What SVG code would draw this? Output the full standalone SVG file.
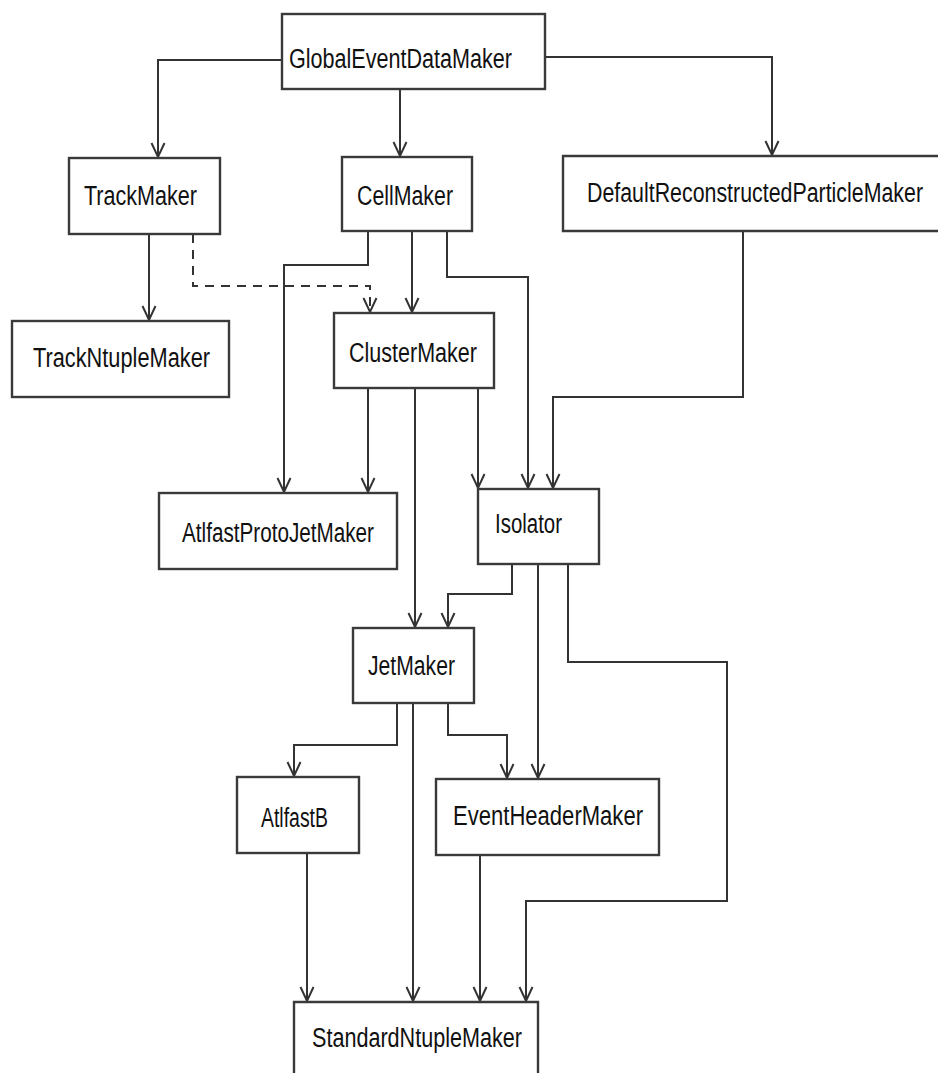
<svg xmlns="http://www.w3.org/2000/svg" width="938" height="1073" viewBox="0 0 938 1073">
<style>
.box{fill:#fff;stroke:#3a3a3a;stroke-width:2.4}
.open{fill:none;stroke:#3a3a3a;stroke-width:2.4}
.lbl{font-family:"Liberation Sans",Arial,sans-serif;font-size:27px;fill:#111}
.edge{fill:none;stroke:#333;stroke-width:2;marker-end:url(#arr)}
.dash{stroke-dasharray:9,7}
</style>
<defs>
<marker id="arr" markerUnits="userSpaceOnUse" viewBox="-15 -8 17 16" markerWidth="17" markerHeight="16" refX="0" refY="0" orient="auto" overflow="visible">
<path d="M-14,-6.5 L0,0 L-14,6.5" fill="none" stroke="#333" stroke-width="2"/>
</marker>
</defs>
<rect width="938" height="1073" fill="#fff"/>
<g id="connectors">
<path class="edge" d="M282,60 H158 V157"/>
<path class="edge" d="M400,89 V156"/>
<path class="edge" d="M545,57 H772 V155"/>
<path class="edge" d="M149,234 V320"/>
<path class="edge dash" d="M193,234 V286 H370 V312"/>
<path class="edge" d="M368,231 V265 H284 V492"/>
<path class="edge" d="M412,231 V312"/>
<path class="edge" d="M447,231 V277 H528 V488"/>
<path class="edge" d="M368,388 V492"/>
<path class="edge" d="M415,388 V627"/>
<path class="edge" d="M478,388 V488"/>
<path class="edge" d="M743,231 V397 H553 V488"/>
<path class="edge" d="M512,564 V594 H448 V627"/>
<path class="edge" d="M538,564 V778"/>
<path class="edge" d="M568,564 V662 H727 V901 H526 V1001"/>
<path class="edge" d="M397,703 V745 H294 V776"/>
<path class="edge" d="M413,703 V1001"/>
<path class="edge" d="M448,703 V735 H507 V778"/>
<path class="edge" d="M307,853 V1001"/>
<path class="edge" d="M480,855 V1001"/>
</g>
<g id="GlobalEventDataMaker"><rect class="box" x="282" y="14" width="263" height="75"/><text class="lbl" x="289" y="68" textLength="223" lengthAdjust="spacingAndGlyphs">GlobalEventDataMaker</text></g>
<g id="TrackMaker"><rect class="box" x="69" y="158" width="151" height="76"/><text class="lbl" x="84" y="205" textLength="113" lengthAdjust="spacingAndGlyphs">TrackMaker</text></g>
<g id="CellMaker"><rect class="box" x="342" y="157" width="130" height="74"/><text class="lbl" x="357" y="205" textLength="96" lengthAdjust="spacingAndGlyphs">CellMaker</text></g>
<g id="DefaultReconstructedParticleMaker"><path class="open" d="M938,156 H563 V231 H938"/><text class="lbl" x="587" y="202" textLength="336" lengthAdjust="spacingAndGlyphs">DefaultReconstructedParticleMaker</text></g>
<g id="TrackNtupleMaker"><rect class="box" x="12" y="321" width="217" height="76"/><text class="lbl" x="33" y="367" textLength="177" lengthAdjust="spacingAndGlyphs">TrackNtupleMaker</text></g>
<g id="ClusterMaker"><rect class="box" x="334" y="313" width="160" height="75"/><text class="lbl" x="349" y="362" textLength="128" lengthAdjust="spacingAndGlyphs">ClusterMaker</text></g>
<g id="AtlfastProtoJetMaker"><rect class="box" x="159" y="493" width="238" height="76"/><text class="lbl" x="182" y="542" textLength="192" lengthAdjust="spacingAndGlyphs">AtlfastProtoJetMaker</text></g>
<g id="Isolator"><rect class="box" x="478" y="489" width="121" height="75"/><text class="lbl" x="495" y="533" textLength="67" lengthAdjust="spacingAndGlyphs">Isolator</text></g>
<g id="JetMaker"><rect class="box" x="353" y="628" width="121" height="75"/><text class="lbl" x="368" y="675" textLength="87" lengthAdjust="spacingAndGlyphs">JetMaker</text></g>
<g id="AtlfastB"><rect class="box" x="237" y="777" width="122" height="76"/><text class="lbl" x="261" y="827" textLength="67" lengthAdjust="spacingAndGlyphs">AtlfastB</text></g>
<g id="EventHeaderMaker"><rect class="box" x="436" y="779" width="223" height="76"/><text class="lbl" x="453" y="825" textLength="190" lengthAdjust="spacingAndGlyphs">EventHeaderMaker</text></g>
<g id="StandardNtupleMaker"><path class="open" d="M294,1073 V1002 H538 V1073"/><text class="lbl" x="312" y="1047" textLength="210" lengthAdjust="spacingAndGlyphs">StandardNtupleMaker</text></g>
</svg>
